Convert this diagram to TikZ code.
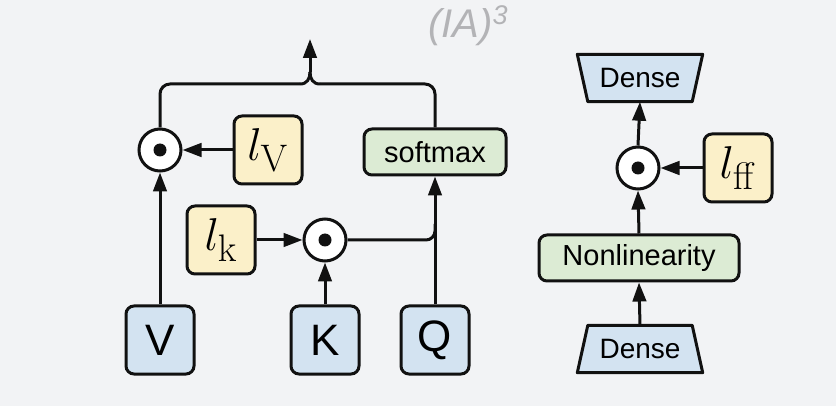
\documentclass[tikz,border=0pt]{standalone}
\usepackage[no-math]{fontspec}
\newfontfamily\helv{Liberation Sans}
\usetikzlibrary{arrows.meta,backgrounds,calc}
\definecolor{bgc}{HTML}{F2F3F5}
\definecolor{blueF}{HTML}{D3E3F1}
\definecolor{yelF}{HTML}{FBF0C9}
\definecolor{grnF}{HTML}{DCEBD4}
\definecolor{titleC}{HTML}{B3B3B6}
\definecolor{ink}{HTML}{111111}
\newcommand{\bigmath}[1]{\scalebox{1.85}{$#1$}}
\begin{document}
\begin{tikzpicture}[x=1pt,y=-1pt,
  box/.style={draw=ink, line width=3pt, rounded corners=8pt, inner sep=0pt, align=center},
  inbox/.style={box, fill=blueF, minimum width=68pt, minimum height=68pt, font=\helv\fontsize{44}{44}\selectfont},
  lbox/.style={box, fill=yelF, minimum width=68pt, minimum height=68pt, font=\Huge},
  gbox/.style={box, fill=grnF, minimum height=46pt, font=\helv\fontsize{29}{29}\selectfont},
  prod/.style={circle, draw=ink, line width=3pt, fill=white, minimum size=42pt, inner sep=0pt,
    path picture={\fill[ink] (path picture bounding box.center) circle (6.5pt);}},
  densebox/.style={inner sep=0pt, minimum width=125pt, minimum height=47pt, font=\helv\fontsize{28}{28}\selectfont},
  trap/.style={draw=ink, line width=3pt, fill=blueF, line join=round},
  line/.style={draw=ink, line width=3pt},
  conn/.style={draw=ink, line width=3pt, -{Triangle[length=19pt,width=13.5pt]}},
]
\begin{scope}[on background layer]
  \fill[bgc] (0,0) rectangle (836,406);
\end{scope}
\useasboundingbox (0,0) rectangle (836,406);

% title
\node[anchor=base west, inner sep=0pt, text=titleC, font=\helv\itshape\fontsize{40}{40}\selectfont] (title) at (428,38) {(IA)\raisebox{13pt}{\fontsize{27}{27}\selectfont 3}};

% left: attention
\node[inbox] (V) at (160,340) {V};
\node[inbox] (K) at (325,340) {K};
\node[inbox] (Q) at (435,340) {Q};
\node[lbox] (lk) at (221,240) {\bigmath{l_{\mathrm{k}}}};
\node[prod] (oK) at (325,240) {};
\node[prod] (oV) at (160,150) {};
\node[lbox] (lv) at (268,150) {\bigmath{l_{\mathrm{V}}}};
\node[gbox, minimum width=142pt] (sm) at (435,152) {softmax};

\coordinate (mQ) at (435,224);
\coordinate (jL) at (300,84);
\coordinate (jR) at (320,84);
\coordinate (jT) at (310,72);
\coordinate (out) at (310,39);

\draw[conn] (V.north) -- (oV.south);
\draw[conn] (lv.west) -- (oV.east);
\draw[conn] (lk.east) -- (oK.west);
\draw[conn] (K.north) -- (oK.south);
\draw[conn] (Q.north) -- (sm.south);
\draw[line, rounded corners=9pt] (oK.east) -- (oK.east -| mQ) -- (mQ);
\draw[line, rounded corners=10pt] (oV.north) -- (oV.north |- jL) -- (jL);
\draw[line, rounded corners=10pt] (sm.north) -- (sm.north |- jR) -- (jR);
\draw[line] (jL) .. controls (307,84) and (310,79) .. (jT);
\draw[line] (jR) .. controls (313,84) and (310,79) .. (jT);
\draw[conn] (jT) -- (out);

% right: feed-forward
\node[densebox] (dB) at (640,349) {Dense};
\node[gbox, minimum width=200pt] (nl) at (639,258) {Nonlinearity};
\node[prod] (oF) at (638,168) {};
\node[lbox] (lff) at (738,168) {\bigmath{l_{\mathrm{ff}}}};
\node[densebox] (dT) at (640,78) {Dense};
\begin{scope}[on background layer]
  \draw[trap] (dB.south west) -- (dB.south east) -- ([xshift=-10.5pt]dB.north east) -- ([xshift=10.5pt]dB.north west) -- cycle;
  \draw[trap] (dT.north west) -- (dT.north east) -- ([xshift=-10.5pt]dT.south east) -- ([xshift=10.5pt]dT.south west) -- cycle;
\end{scope}

\draw[conn] (dB.north) -- (nl.south);
\draw[conn] (nl.north) -- (oF.south);
\draw[conn] (lff.west) -- (oF.east);
\draw[conn] (oF.north) -- (dT.south);
\end{tikzpicture}
\end{document}
